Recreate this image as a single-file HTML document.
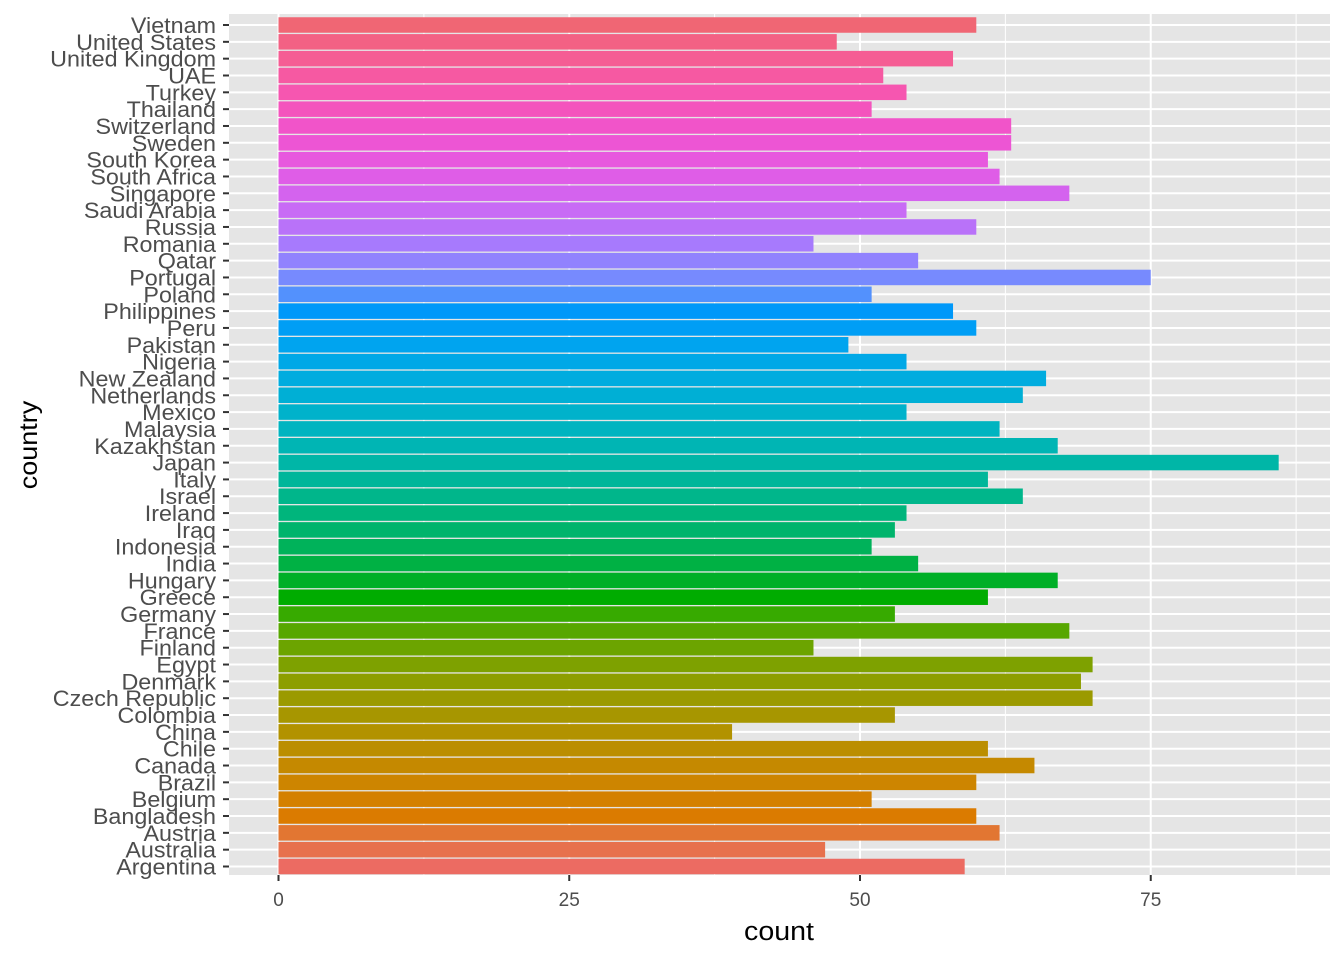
<!DOCTYPE html>
<html><head><meta charset="utf-8"><style>
html,body{margin:0;padding:0;background:#fff;}
svg{display:block;font-family:"Liberation Sans",Arial,sans-serif;}
</style></head><body>
<svg id="s" width="1344" height="960" xmlns="http://www.w3.org/2000/svg"></svg>
<script>
(function(){
const names=["Vietnam","United States","United Kingdom","UAE","Turkey","Thailand","Switzerland","Sweden","South Korea","South Africa","Singapore","Saudi Arabia","Russia","Romania","Qatar","Portugal","Poland","Philippines","Peru","Pakistan","Nigeria","New Zealand","Netherlands","Mexico","Malaysia","Kazakhstan","Japan","Italy","Israel","Ireland","Iraq","Indonesia","India","Hungary","Greece","Germany","France","Finland","Egypt","Denmark","Czech Republic","Colombia","China","Chile","Canada","Brazil","Belgium","Bangladesh","Austria","Australia","Argentina"];
const vals=[60,48,58,52,54,51,63,63,61,62,68,54,60,46,55,75,51,58,60,49,54,66,64,54,62,67,86,61,64,54,53,51,55,67,61,53,68,46,70,69,70,53,39,61,65,60,51,60,62,47,59];
const N=names.length;
function hcl(h){const Lh=61,C=100;const r=h*Math.PI/180;const u=C*Math.cos(r),v=C*Math.sin(r);
const Xn=95.047,Yn=100,Zn=108.883;const d=Xn+15*Yn+3*Zn;const un=4*Xn/d,vn=9*Yn/d;
const Y=Yn*Math.pow((Lh+16)/116,3);const up=u/(13*Lh)+un,vp=v/(13*Lh)+vn;
const X=Y*9*up/(4*vp),Z=Y*(12-3*up-20*vp)/(4*vp);
const x=X/100,y=Y/100,z=Z/100;
const rgb=[3.2406*x-1.5372*y-0.4986*z,-0.9689*x+1.8758*y+0.0415*z,0.0557*x-0.2040*y+1.0570*z];
return "rgb("+rgb.map(function(c){c=c<=0.0031308?12.92*c:1.055*Math.pow(c,1/2.4)-0.055;return Math.round(Math.max(0,Math.min(1,c))*255);}).join(",")+")";}
const PL=229,PR=1330,PT=14,PB=875,x0=278.5,k=11.63;
const y0=25,step=(866.5-25)/(N-1);
let s='<rect x="'+PL+'" y="'+PT+'" width="'+(PR-PL)+'" height="'+(PB-PT)+'" fill="#E5E5E5"/>';
[12.5,37.5,62.5,87.5].forEach(function(m){s+='<line x1="'+(x0+m*k)+'" x2="'+(x0+m*k)+'" y1="'+PT+'" y2="'+PB+'" stroke="#fff" stroke-width="1"/>';});
[0,25,50,75].forEach(function(m){s+='<line x1="'+(x0+m*k)+'" x2="'+(x0+m*k)+'" y1="'+PT+'" y2="'+PB+'" stroke="#fff" stroke-width="2"/>';});
for(let i=0;i<N;i++){const y=y0+i*step;s+='<line x1="'+PL+'" x2="'+PR+'" y1="'+y+'" y2="'+y+'" stroke="#fff" stroke-width="2"/>';}
for(let i=0;i<N;i++){const y=y0+i*step;const idx=N-1-i;const col=hcl(15+360*idx/N);
s+='<rect x="'+x0+'" y="'+(y-7.75)+'" width="'+(vals[i]*k)+'" height="15.5" fill="'+col+'"/>';
s+='<line x1="'+(PL-6)+'" x2="'+PL+'" y1="'+y+'" y2="'+y+'" stroke="#333" stroke-width="2"/>';
s+='<text transform="translate(216,'+(y+8)+') scale(1.06,1)" text-anchor="end" font-size="22" fill="#4D4D4D">'+names[i]+'</text>';}
[0,25,50,75].forEach(function(m){const x=x0+m*k;s+='<line x1="'+x+'" x2="'+x+'" y1="'+PB+'" y2="'+(PB+6)+'" stroke="#333" stroke-width="2"/>';
s+='<text x="'+x+'" y="'+(PB+31)+'" text-anchor="middle" font-size="19" fill="#4D4D4D">'+m+'</text>';});
s+='<text transform="translate(779,940) scale(1.1,1)" text-anchor="middle" font-size="26" fill="#000">count</text>';
s+='<text transform="translate(37,445) rotate(-90) scale(1.08,1)" text-anchor="middle" font-size="25" fill="#000">country</text>';
document.getElementById("s").innerHTML=s;
})();
</script>
</body></html>
